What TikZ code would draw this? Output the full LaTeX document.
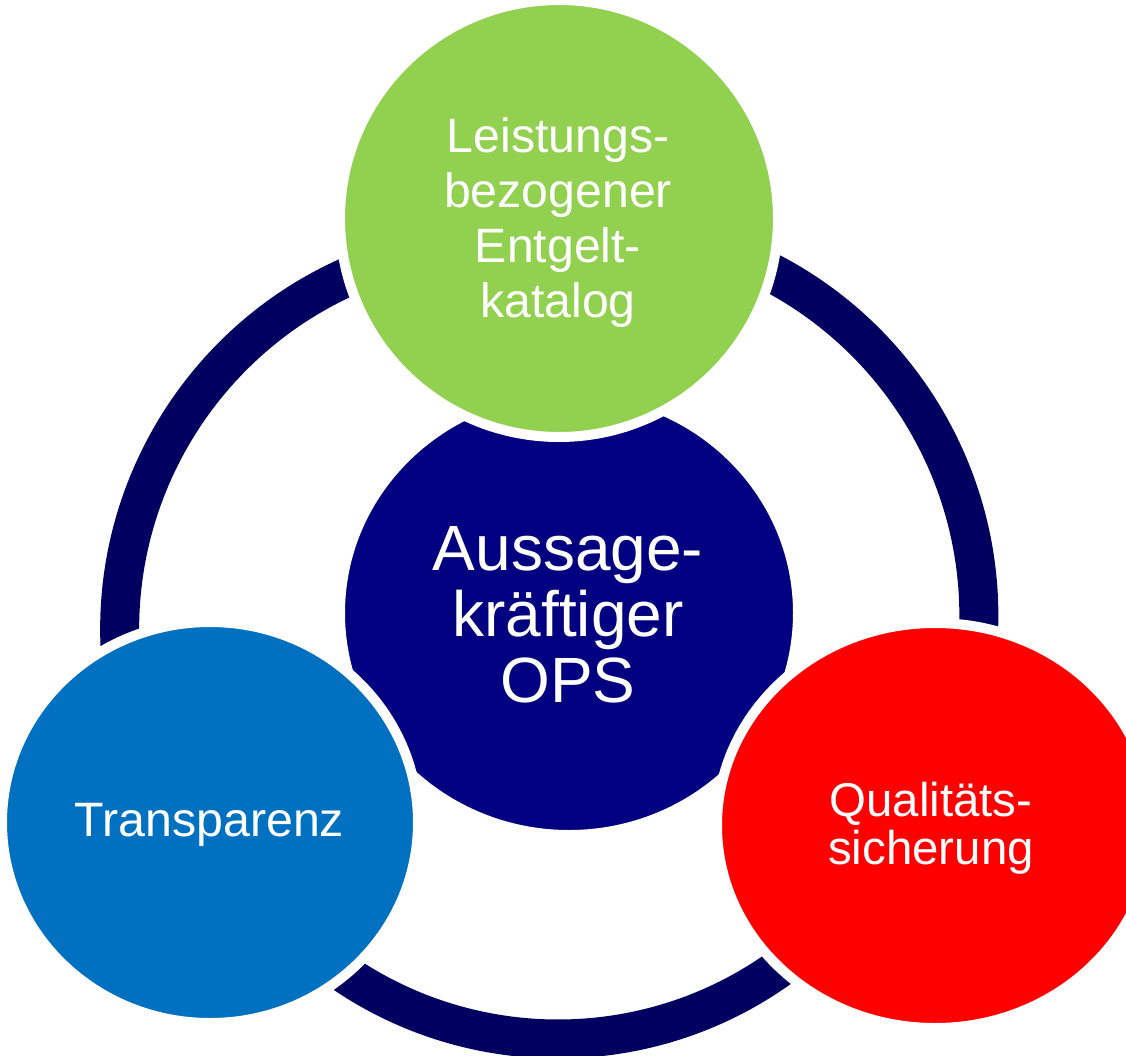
\documentclass[tikz,border=0pt]{standalone}
\usepackage{fontspec}
\setmainfont{Liberation Sans}
\usetikzlibrary{shapes.geometric}
\definecolor{ringnavy}{RGB}{0,0,96}
\definecolor{corenavy}{RGB}{0,0,128}
\definecolor{leafgreen}{RGB}{146,208,80}
\definecolor{topblue}{RGB}{0,112,192}
\definecolor{alertred}{RGB}{255,0,0}
\begin{document}
\begin{tikzpicture}[x=1pt,y=-1pt,
  bubble/.style={ellipse, draw=white, line width=10pt, inner sep=0pt, outer sep=0pt},
  bubbletext/.style={text=white, align=center, inner sep=0pt},
  ringline/.style={draw=ringnavy, line width=39pt}]
\useasboundingbox (0,0) rectangle (1126,1055);
\clip (0,0) rectangle (1126,1055);
\fill[white] (0,0) rectangle (1126,1055);
% cycle arcs behind the bubbles
\draw[ringline] (506,629.2) ++(170:386.3) arc[start angle=170, end angle=255, radius=386.3];
\draw[ringline] (591.5,615.8) ++(-72:387.3) arc[start angle=-72, end angle=10, radius=387.3];
\draw[ringline] (558,658) ++(48:381) arc[start angle=48, end angle=132, radius=381];
% bubbles
\node[bubble, fill=corenavy, minimum width=458pt, minimum height=444pt] (core) at (569,613) {};
\node[bubble, fill=leafgreen, minimum width=438pt, minimum height=437pt] (entgelt) at (559,218.5) {};
\node[bubble, fill=topblue, minimum width=416pt, minimum height=401pt] (transparenz) at (210,822.5) {};
\node[bubble, fill=alertred, minimum width=436pt, minimum height=405pt] (qualitaet) at (935,825.5) {};
% texts
\node[bubbletext, font=\fontsize{64}{66}\selectfont] (core-t) at (568,615) {Aussage-\\kräftiger\\OPS};
\node[bubbletext, font=\fontsize{48.2}{55}\selectfont] (entgelt-t) at (558,222.5) {Leistungs-\\bezogener\\Entgelt-\\katalog};
\node[bubbletext, font=\fontsize{48.3}{55}\selectfont] (transparenz-t) at (209.5,825) {Transparenz};
\node[bubbletext, font=\fontsize{47.4}{48}\selectfont] (qualitaet-t) at (931,828.5) {Qualitäts-\\sicherung};
\end{tikzpicture}
\end{document}
